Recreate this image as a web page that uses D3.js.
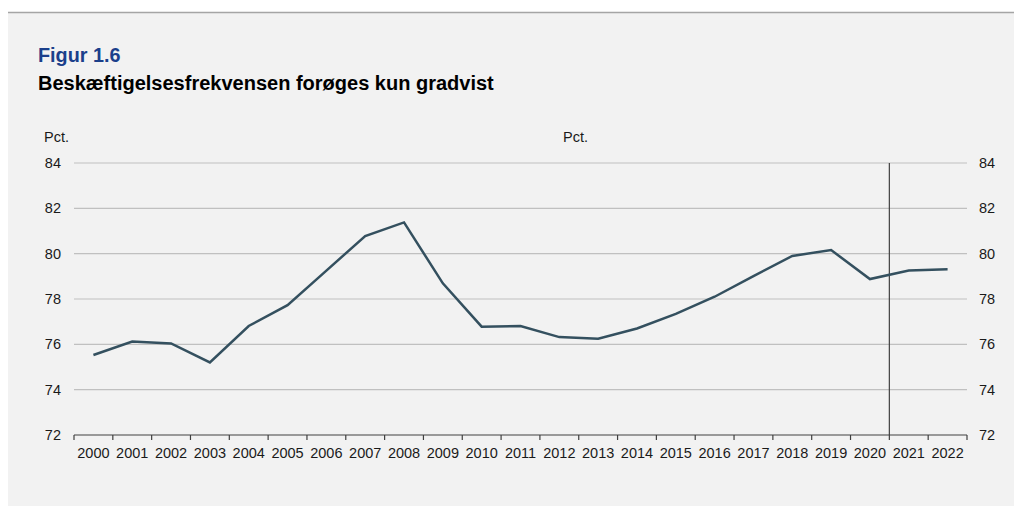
<!DOCTYPE html>
<html>
<head>
<meta charset="utf-8">
<script src="https://cdn.jsdelivr.net/npm/d3@7"></script>
<style>
  body { margin: 0; background: #fff; }
  svg { display: block; font-family: "Liberation Sans", Arial, sans-serif; }
</style>
</head>
<body>
<div id="chart"></div>
<script>
const years = ['2000','2001','2002','2003','2004','2005','2006','2007','2008','2009','2010','2011',
               '2012','2013','2014','2015','2016','2017','2018','2019','2020','2021','2022'];
const rate = [75.53, 76.12, 76.04, 75.2, 76.81, 77.73, 79.25, 80.78, 81.38, 78.69, 76.78, 76.81,
              76.32, 76.25, 76.7, 77.34, 78.1, 79.01, 79.9, 80.16, 78.88, 79.26, 79.31];
const yTicks = [72, 74, 76, 78, 80, 82, 84];
const splitYear = '2021'; // vertical line before this year

const width = 1014;
const height = 506;
const margin = { top: 163, right: 47, bottom: 71, left: 74 };

const svg = d3.select('#chart')
    .append('svg')
    .attr('width', width)
    .attr('height', height);

// panel background + top rule
svg.append('rect')
    .attr('x', 8).attr('y', 12)
    .attr('width', width - 8).attr('height', height - 12)
    .attr('fill', '#f2f2f2');
svg.append('line')
    .attr('x1', 8).attr('x2', width)
    .attr('y1', 12.5).attr('y2', 12.5)
    .attr('stroke', '#a5a5a5').attr('stroke-width', 1.5);

svg.append('text')
    .attr('x', 38).attr('y', 62)
    .attr('font-size', 19.8).attr('font-weight', 'bold')
    .attr('fill', '#1b3f8b')
    .text('Figur 1.6');
svg.append('text')
    .attr('x', 38).attr('y', 90)
    .attr('font-size', 20).attr('font-weight', 'bold')
    .attr('fill', '#000')
    .text('Beskæftigelsesfrekvensen forøges kun gradvist');

const x = d3.scaleBand()
    .domain(years)
    .range([margin.left, width - margin.right])
    .padding(0);

const y = d3.scaleLinear()
    .domain([72, 84])
    .range([height - margin.bottom, margin.top]);

// gridlines
svg.append('g')
    .selectAll('line')
    .data(yTicks.filter(d => d !== 72))
    .enter()
    .append('line')
    .attr('x1', margin.left)
    .attr('x2', width - margin.right)
    .attr('y1', d => y(d))
    .attr('y2', d => y(d))
    .attr('stroke', '#c0c0c0')
    .attr('stroke-width', 1.2);

// left/right tick labels
const axisFont = 14.5;
svg.append('g')
    .selectAll('text')
    .data(yTicks)
    .enter()
    .append('text')
    .attr('x', 61)
    .attr('y', d => y(d))
    .attr('dy', '0.35em')
    .attr('text-anchor', 'end')
    .attr('font-size', axisFont)
    .attr('fill', '#1a1a1a')
    .text(d => d);
svg.append('g')
    .selectAll('text')
    .data(yTicks)
    .enter()
    .append('text')
    .attr('x', 979)
    .attr('y', d => y(d))
    .attr('dy', '0.35em')
    .attr('font-size', axisFont)
    .attr('fill', '#1a1a1a')
    .text(d => d);

svg.append('text')
    .attr('x', 44).attr('y', 142)
    .attr('font-size', axisFont).attr('fill', '#1a1a1a')
    .text('Pct.');
svg.append('text')
    .attr('x', 563).attr('y', 142)
    .attr('font-size', axisFont).attr('fill', '#1a1a1a')
    .text('Pct.');

// x axis
const xAxis = svg.append('g')
    .attr('transform', `translate(0,${height - margin.bottom})`);
xAxis.append('line')
    .attr('x1', margin.left).attr('x2', width - margin.right)
    .attr('stroke', '#404040').attr('stroke-width', 1.2);
xAxis.selectAll('.tick')
    .data(years.concat(['end']))
    .enter()
    .append('line')
    .attr('x1', (d, i) => i < years.length ? x(d) : x.range()[1])
    .attr('x2', (d, i) => i < years.length ? x(d) : x.range()[1])
    .attr('y1', 0).attr('y2', 5)
    .attr('stroke', '#404040').attr('stroke-width', 1.2);
xAxis.selectAll('text')
    .data(years)
    .enter()
    .append('text')
    .attr('x', d => x(d) + x.bandwidth() / 2)
    .attr('y', 23)
    .attr('text-anchor', 'middle')
    .attr('font-size', axisFont)
    .attr('fill', '#1a1a1a')
    .text(d => d);

// forecast divider
svg.append('line')
    .attr('x1', x(splitYear)).attr('x2', x(splitYear))
    .attr('y1', y(84)).attr('y2', y(72))
    .attr('stroke', '#404040').attr('stroke-width', 1.2);

// series
const line = d3.line()
    .x((d, i) => x(years[i]) + x.bandwidth() / 2)
    .y(d => y(d));

svg.append('path')
    .datum(rate)
    .attr('d', line)
    .attr('fill', 'none')
    .attr('stroke', '#34505f')
    .attr('stroke-width', 2.5)
    .attr('stroke-linejoin', 'miter');
</script>
</body>
</html>
